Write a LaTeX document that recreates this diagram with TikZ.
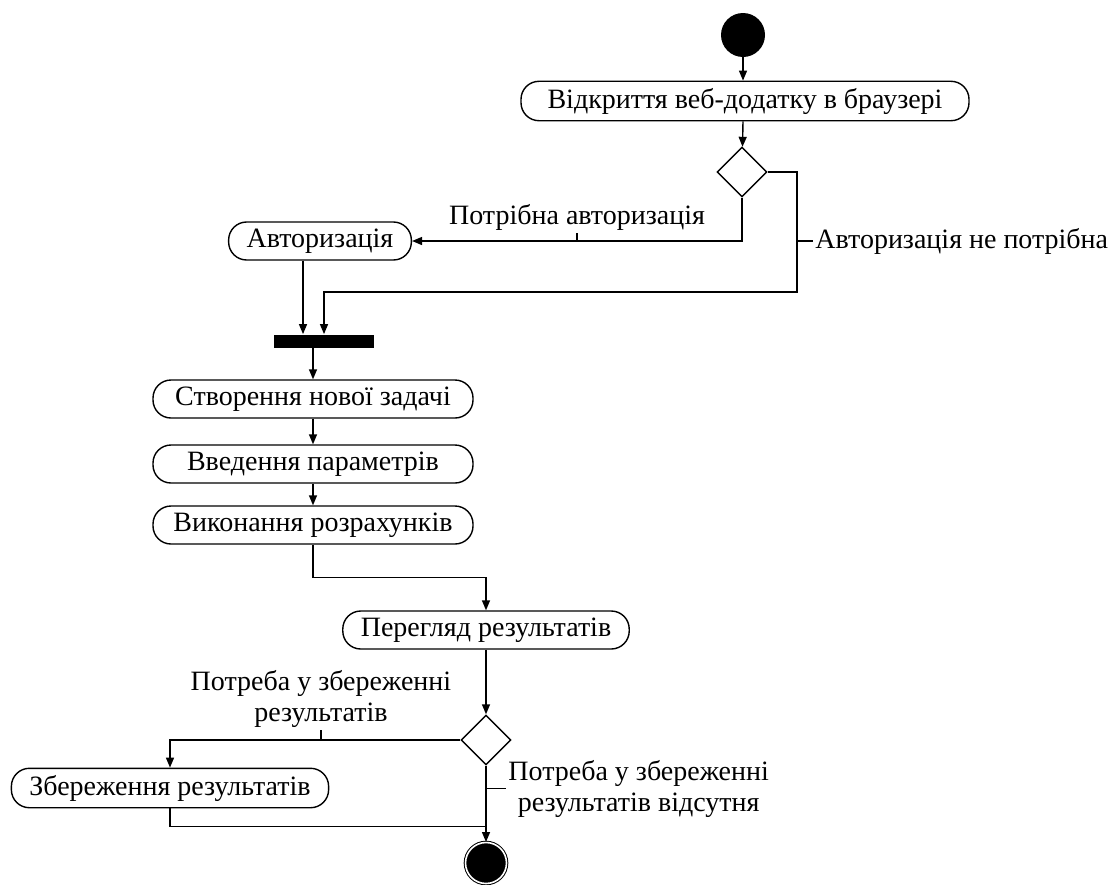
\documentclass[tikz,border=0pt]{standalone}
\usepackage{fontspec}
\setmainfont{Liberation Serif}
\usetikzlibrary{shapes.geometric,arrows.meta,positioning}
\begin{document}
\begin{tikzpicture}[x=0.5pt,y=-0.5pt]
\tikzstyle{activity}=[draw, rectangle, rounded corners=9pt, minimum height=19pt, inner xsep=9pt, line width=0.7pt, font=\fontsize{14}{15}\selectfont]
\tikzstyle{wideact}=[activity, minimum width=160pt]
\tikzstyle{decision}=[draw, diamond, minimum width=25pt, minimum height=25pt, inner sep=0pt, line width=0.7pt]
\tikzstyle{startnode}=[circle, fill=black, minimum size=22pt, inner sep=0pt]
\tikzstyle{endnode}=[circle, fill=black, draw=black, double=white, double distance=0.8pt, line width=0.5pt, minimum size=20.5pt, inner sep=0pt]
\tikzstyle{syncbar}=[rectangle, fill=black, minimum width=50pt, minimum height=6.5pt, inner sep=0pt]
\tikzstyle{line}=[draw, line width=0.7pt, -{Triangle[length=5pt,width=4pt]}]
\tikzstyle{plain}=[draw, line width=0.7pt]
\tikzstyle{guard}=[inner sep=1pt, align=center, font=\fontsize{14}{15.5}\selectfont]

\useasboundingbox (0,0) rectangle (1113,884);

% Define activities
\node[startnode] (start) at (743,35) {};
\node[activity, minimum width=224pt] (open) at (745,101) {Відкриття веб-додатку в браузері};
\node[decision] (dec1) at (742,172) {};
\node[activity] (auth) at (320,241) {Авторизація};
\node[syncbar] (join) at (324,341) {};
\node[wideact] (create) at (313,399) {Створення нової задачі};
\node[wideact] (params) at (313,464) {Введення параметрів};
\node[wideact] (calc) at (313,525) {Виконання розрахунків};
\node[activity] (view) at (486,630) {Перегляд результатів};
\node[decision] (dec2) at (486,740) {};
\node[activity] (save) at (170,788) {Збереження результатів};
\node[endnode] (final) at (486,863) {};

% Helper points
\coordinate (bend) at (797,292);
\coordinate (joinL) at ([xshift=-10.5pt]join.north);
\coordinate (t2) at (bend |- auth);

% Control flow
\draw[line] (start) -- (start |- open.north);
\draw[line] (start |- open.south) -- (dec1);
\draw[line] (dec1.south) |- coordinate[pos=0.75] (t1) (auth.east);
\draw[line] (dec1.east) -| (bend) -| (join.north);
\draw[line] (auth.south -| joinL) -- (joinL);
\draw[line] (join.south -| create.north) -- (create);
\draw[line] (create) -- (params);
\draw[line] (params) -- (calc);
\draw[line] (calc.south) -- ++(0,33) -| (view.north);
\draw[line] (view) -- (dec2);
\draw[line] (dec2.west) -| coordinate[pos=0.24] (t3) (save.north);
\draw[line] (dec2) -- coordinate[pos=0.3] (t4) coordinate[pos=0.8] (t5) (final);
\draw[plain] (save.south) |- (t5);

% Guards
\node[guard, above=4pt of t1] (needauth) {Потрібна авторизація};
\draw[plain] (needauth) -- (t1);
\node[guard, right=8pt of t2] (noauth) {Авторизація не потрібна};
\draw[plain] (t2) -- (noauth);
\node[guard, above=5pt of t3] (needsave) {Потреба у збереженні\\результатів};
\draw[plain] (needsave) -- (t3);
\node[guard, right=10pt of t4] (nosave) {Потреба у збереженні\\результатів відсутня};
\draw[plain] (t4) -- (nosave);
\end{tikzpicture}
\end{document}
